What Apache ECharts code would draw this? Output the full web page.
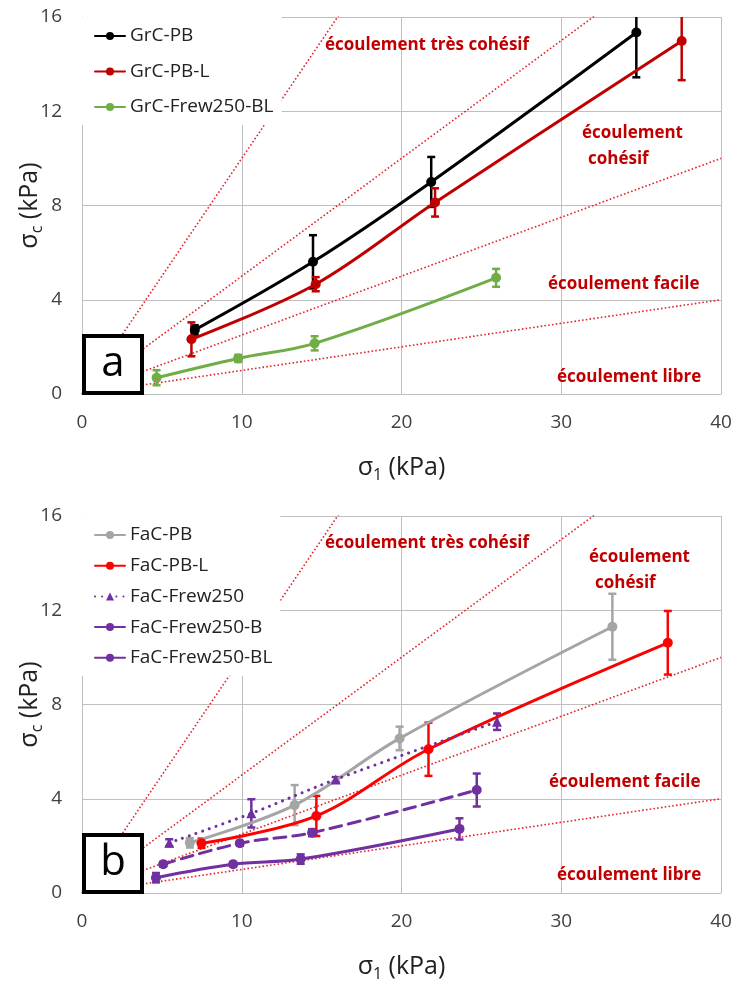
<!DOCTYPE html>
<html>
<head>
<meta charset="utf-8">
<script src="https://cdn.jsdelivr.net/npm/echarts@6/dist/echarts.min.js"></script>
<style>html,body{margin:0;padding:0;background:#fff}#c{width:735px;height:981px}</style>
</head>
<body>
<div id="c"></div>
<script>
// ---- data (top chart, a) ----
const grcPB_x   = [7.06, 14.46, 21.86, 34.7];
const grcPB_y   = [2.72, 5.61, 9.0, 15.34];
const grcPB_err = [0.2, 1.13, 1.06, 1.9];

const grcPBL_x   = [6.85, 14.63, 22.1, 37.54];
const grcPBL_y   = [2.32, 4.66, 8.13, 14.98];
const grcPBL_err = [0.72, 0.3, 0.6, 1.66];

const grcFrew_x   = [4.67, 9.77, 14.56, 25.92];
const grcFrew_y   = [0.69, 1.51, 2.15, 4.93];
const grcFrew_err = [0.32, 0.15, 0.3, 0.38];

// ---- data (bottom chart, b) ----
const facPB_x   = [6.75, 13.31, 19.88, 33.2];
const facPB_y   = [2.13, 3.73, 6.56, 11.3];
const facPB_err = [0.2, 0.85, 0.5, 1.4];

const facPBL_x   = [7.48, 14.67, 21.69, 36.67];
const facPBL_y   = [2.11, 3.27, 6.1, 10.62];
const facPBL_err = [0.2, 0.85, 1.13, 1.35];

const facFrew_x   = [5.46, 10.6, 15.88, 25.98];
const facFrew_y   = [2.13, 3.38, 4.82, 7.27];
const facFrew_err = [0.15, 0.6, 0.1, 0.35];

const facFrewB_x   = [5.08, 9.88, 14.4, 24.71];
const facFrewB_y   = [1.22, 2.11, 2.56, 4.37];
const facFrewB_err = [0.1, 0.1, 0.15, 0.7];

const facFrewBL_x   = [4.63, 9.46, 13.69, 23.63];
const facFrewBL_y   = [0.65, 1.22, 1.44, 2.72];
const facFrewBL_err = [0.2, 0.1, 0.2, 0.45];

// flow function boundaries ffc = sigma1 / sigmac
const ffcValues = [1, 2, 4, 10];
const sigma1Range = [0, 40];

// axis ticks
const xTicks = [0, 10, 20, 30, 40];
const yTicks = [0, 4, 8, 12, 16];

const topLegend = ['GrC-PB', 'GrC-PB-L', 'GrC-Frew250-BL'];
const botLegend = ['FaC-PB', 'FaC-PB-L', 'FaC-Frew250', 'FaC-Frew250-B', 'FaC-Frew250-BL'];

const FONT = '"Open Sans", "Liberation Sans", sans-serif';
const LABEL_RED = '#C00000';

function pts(xs, ys) { return xs.map((x, i) => [x, ys[i]]); }
function errPts(xs, ys, es) { return xs.map((x, i) => [x, ys[i], es[i]]); }

function lineSeries(name, xs, ys, color, gi, opts) {
  opts = opts || {};
  return {
    name: name, type: 'line', xAxisIndex: gi, yAxisIndex: gi,
    data: pts(xs, ys), smooth: 0.35,
    symbol: opts.symbol || 'circle', symbolSize: opts.symbolSize || 10,
    itemStyle: { color: color },
    lineStyle: { color: color, width: 3, type: opts.type || 'solid', cap: 'round' },
    z: 5, animation: false
  };
}

function errSeries(xs, ys, es, color, gi) {
  return {
    type: 'custom', xAxisIndex: gi, yAxisIndex: gi, clip: true, z: 4,
    data: errPts(xs, ys, es), animation: false,
    renderItem: function (params, api) {
      const x = api.value(0), y = api.value(1), e = api.value(2);
      const top = api.coord([x, y + e]);
      const bot = api.coord([x, y - e]);
      const w = 4;
      const st = { stroke: color, lineWidth: 2.5 };
      return {
        type: 'group',
        children: [
          { type: 'line', shape: { x1: top[0], y1: top[1], x2: bot[0], y2: bot[1] }, style: st },
          { type: 'line', shape: { x1: top[0] - w, y1: top[1], x2: top[0] + w, y2: top[1] }, style: st },
          { type: 'line', shape: { x1: bot[0] - w, y1: bot[1], x2: bot[0] + w, y2: bot[1] }, style: st }
        ]
      };
    }
  };
}

function boundarySeries(gi) {
  return ffcValues.map(f => ({
    type: 'line', xAxisIndex: gi, yAxisIndex: gi,
    data: sigma1Range.map(s => [s, s / f]),
    symbol: 'none', silent: true, z: 3, animation: false,
    lineStyle: { color: '#E3242B', width: 1.6, type: [1.6, 2.2] }
  }));
}

const axisLabelStyle = { fontFamily: FONT, fontSize: 19, color: '#404040' };
const nameRich = {
  s: { fontFamily: FONT, fontSize: 25, color: '#222' },
  sub: { fontFamily: FONT, fontSize: 16, color: '#222', padding: [14, 0, 0, 0] }
};

function xAxis(gi) {
  return {
    type: 'value', gridIndex: gi, min: xTicks[0], max: xTicks[xTicks.length - 1], interval: xTicks[1] - xTicks[0],
    axisLine: { show: true, lineStyle: { color: '#BFBFBF', width: 1 } },
    axisTick: { show: false },
    axisLabel: Object.assign({ margin: 19 }, axisLabelStyle),
    splitLine: { show: true, lineStyle: { color: '#BFBFBF', width: 1 } },
    name: '{s|σ}{sub|1}{s| (kPa)}', nameLocation: 'middle', nameGap: 74, nameMoveOverlap: false,
    nameTextStyle: { rich: nameRich, verticalAlign: 'middle' }
  };
}
function yAxis(gi) {
  return {
    type: 'value', gridIndex: gi, min: yTicks[0], max: yTicks[yTicks.length - 1], interval: yTicks[1] - yTicks[0],
    axisLine: { show: true, lineStyle: { color: '#BFBFBF', width: 1 } },
    axisTick: { show: false },
    axisLabel: Object.assign({ margin: 20 }, axisLabelStyle),
    splitLine: { show: true, lineStyle: { color: '#BFBFBF', width: 1 } },
    name: '{s|σ}{sub|c}{s| (kPa)}', nameLocation: 'middle', nameGap: 52, nameRotate: 90, nameMoveOverlap: false,
    nameTextStyle: { rich: nameRich, verticalAlign: 'middle' }
  };
}

function legend(data, top, gap) {
  return {
    orient: 'vertical', left: 82, top: top, data: data,
    backgroundColor: '#fff', padding: [9, 8, 8, 12],
    itemWidth: 30, itemHeight: 10, itemGap: gap,
    textStyle: { fontFamily: FONT, fontSize: 19, color: '#222', lineHeight: 20 }
  };
}

function regionLabel(text, x, y) {
  return { type: 'text', x: x, y: y, z: 50,
    style: { text: text, fill: LABEL_RED, font: 'bold 17px ' + FONT, verticalAlign: 'middle' } };
}
function panelBox(letter, x, y) {
  return [
    { type: 'rect', z: 60, shape: { x: x, y: y, width: 58, height: 57 },
      style: { fill: '#fff', stroke: '#000', lineWidth: 4 } },
    { type: 'text', z: 61, x: x + 29, y: y + 28,
      style: { text: letter, fill: '#000', font: '42px ' + FONT, align: 'center', verticalAlign: 'middle' } }
  ];
}

const series = [].concat(
  boundarySeries(0),
  boundarySeries(1),
  [
    errSeries(grcPB_x, grcPB_y, grcPB_err, '#000000', 0),
    errSeries(grcPBL_x, grcPBL_y, grcPBL_err, '#C00000', 0),
    errSeries(grcFrew_x, grcFrew_y, grcFrew_err, '#70AD47', 0),
    lineSeries('GrC-PB', grcPB_x, grcPB_y, '#000000', 0),
    lineSeries('GrC-PB-L', grcPBL_x, grcPBL_y, '#C00000', 0),
    lineSeries('GrC-Frew250-BL', grcFrew_x, grcFrew_y, '#70AD47', 0),

    errSeries(facPB_x, facPB_y, facPB_err, '#A5A5A5', 1),
    errSeries(facPBL_x, facPBL_y, facPBL_err, '#FF0000', 1),
    errSeries(facFrew_x, facFrew_y, facFrew_err, '#7030A0', 1),
    errSeries(facFrewB_x, facFrewB_y, facFrewB_err, '#7030A0', 1),
    errSeries(facFrewBL_x, facFrewBL_y, facFrewBL_err, '#7030A0', 1),
    lineSeries('FaC-PB', facPB_x, facPB_y, '#A5A5A5', 1),
    lineSeries('FaC-PB-L', facPBL_x, facPBL_y, '#FF0000', 1),
    lineSeries('FaC-Frew250', facFrew_x, facFrew_y, '#7030A0', 1, { type: [0.1, 7], symbol: 'triangle', symbolSize: 10 }),
    lineSeries('FaC-Frew250-B', facFrewB_x, facFrewB_y, '#7030A0', 1, { type: [12, 7] }),
    lineSeries('FaC-Frew250-BL', facFrewBL_x, facFrewBL_y, '#7030A0', 1)
  ]
);

const chart = echarts.init(document.getElementById('c'), null, { renderer: 'canvas' });
chart.setOption({
  backgroundColor: '#fff',
  animation: false,
  textStyle: { fontFamily: FONT },
  grid: [
    { left: 82, top: 17, width: 639, height: 377, containLabel: false, outerBoundsMode: 'none' },
    { left: 82, top: 516, width: 639, height: 377, containLabel: false, outerBoundsMode: 'none' }
  ],
  xAxis: [xAxis(0), xAxis(1)],
  yAxis: [yAxis(0), yAxis(1)],
  legend: [legend(topLegend, 17, 15.5), legend(botLegend, 516, 10.7)],
  series: series,
  graphic: [].concat(
    [
      regionLabel('écoulement très cohésif', 325, 45),
      regionLabel('écoulement', 582, 133),
      regionLabel('cohésif', 588, 159),
      regionLabel('écoulement facile', 548, 284),
      regionLabel('écoulement libre', 557, 377),
      regionLabel('écoulement très cohésif', 325, 543),
      regionLabel('écoulement', 589, 557),
      regionLabel('cohésif', 595, 583),
      regionLabel('écoulement facile', 549, 782),
      regionLabel('écoulement libre', 557, 875)
    ],
    panelBox('a', 84, 336),
    panelBox('b', 84, 835)
  )
});
</script>
</body>
</html>
